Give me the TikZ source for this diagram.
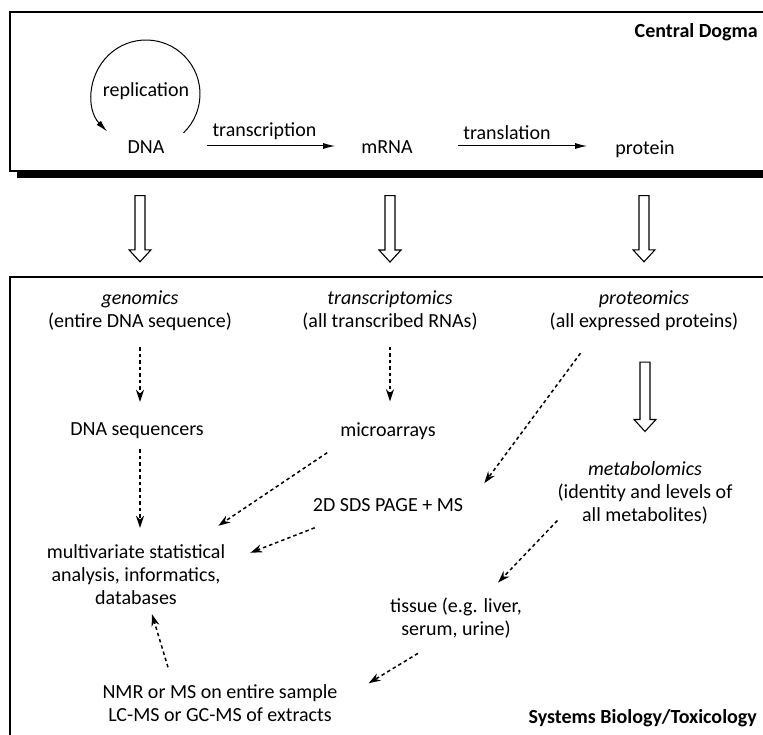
\documentclass[tikz,border=0pt]{standalone}
\usepackage{fontspec}
\setmainfont{Carlito}
\usetikzlibrary{arrows.meta,calc}

\begin{document}
\begin{tikzpicture}[x=1pt,y=-1pt,
    every node/.style={font=\fontsize{20}{23}\selectfont, align=center, inner sep=0pt},
    box/.style={draw, line width=1.4pt, fill=white},
    flow/.style={-{Latex[length=12pt,width=6pt]}, line width=1pt},
    dashflow/.style={-{Stealth[length=12pt,width=8pt]}, line width=1.5pt, dash pattern=on 3.5pt off 3pt},
    hollowarrow/.style={draw, fill=white, line width=1.1pt,
      to path={let \p1=(\tikztostart), \p2=(\tikztotarget) in
        (\x2-5pt,\y1) -- (\x2+5pt,\y1) -- (\x2+5pt,\y2+12pt) -- (\x2+11pt,\y2+12pt)
        -- (\x2,\y2) -- (\x2-11pt,\y2+12pt) -- (\x2-5pt,\y2+12pt) -- cycle}}]
  \useasboundingbox (0,0) rectangle (763,735);
  \clip (0,0) rectangle (763,735);

  % central dogma
  \fill (17,19) rectangle (800,178);
  \draw[box] (10,12) rectangle (800,171);
  \node[font=\fontsize{20}{23}\selectfont\bfseries, anchor=base east] (dogma) at (758,38) {Central Dogma};
  \node (rep) at (146,91) {replication};
  \node (dna) at (146,147) {DNA};
  \node (mrna) at (387,147) {mRNA};
  \node (prot) at (645,149) {protein};
  \draw[flow] ([yshift=-3pt]rep.center) ++(-46:54pt) arc[start angle=-46, end angle=224, radius=54pt];
  \draw[flow] ([xshift=42pt,yshift=1pt]dna.east) -- node[above=6pt, pos=0.45] (tsc) {transcription}
    ([xshift=-26pt,yshift=1pt]dna.east -| mrna.west);
  \draw[flow] ([xshift=45pt,yshift=1pt]mrna.east) -- node[above=6pt, pos=0.38] (tsl) {translation}
    ([xshift=-28pt,yshift=1pt]mrna.east -| prot.west);

  % omics
  \draw[box] (10,277) rectangle (800,760);
  \node (geno) at (140,311) {\itshape genomics\\(entire DNA sequence)};
  \node (trans) at (390,311) {\itshape transcriptomics\\(all transcribed RNAs)};
  \node (prote) at (644,311) {\itshape proteomics\\(all expressed proteins)};
  \node (seq) at (137,431) {DNA sequencers};
  \node (micro) at (388,431) {microarrays};
  \node (sds) at (388,505) {2D SDS PAGE + MS};
  \node (metab) at (645,493) {\itshape metabolomics\\(identity and levels of\\all metabolites)};
  \node (multi) at (136,575) {multivariate statistical\\analysis, informatics,\\databases};
  \node (tissue) at (456,618) {tissue (e.g. liver,\\serum, urine)};
  \node (nmr) at (220,703) {NMR or MS on entire sample\\LC-MS or GC-MS of extracts};
  \node[font=\fontsize{20}{23}\selectfont\bfseries, anchor=base east] (sysbio) at (757,723) {Systems Biology/Toxicology};

  \draw[hollowarrow] ([yshift=-42pt]dna.south) to ([yshift=29pt]geno.north);
  \draw[hollowarrow] ([yshift=-42pt]mrna.south) to ([yshift=29pt]trans.north);
  \draw[hollowarrow] ([yshift=-38pt]prot.south) to ([yshift=29pt]prote.north);
  \draw[hollowarrow] ([yshift=-31pt]prote.south) to ([yshift=30pt]metab.north);

  \draw[dashflow] ([yshift=-16pt]geno.south) -- ([yshift=21pt]geno.south |- seq.north);
  \draw[dashflow] ([yshift=-16pt]trans.south) -- ([yshift=21pt]trans.south |- micro.north);
  \draw[dashflow] ([yshift=-10pt]geno.south |- seq.south) -- ([yshift=17pt]geno.south |- multi.north);
  \draw[dashflow] ([xshift=-13pt,yshift=-13pt]micro.south west) -- ([xshift=-7pt,yshift=19pt]multi.north east);
  \draw[dashflow] ([xshift=31pt,yshift=-22pt]prote.south west) -- ([xshift=21pt,yshift=15pt]sds.north east);
  \draw[dashflow] ([xshift=2pt,yshift=-16pt]sds.south west) -- ([xshift=25pt,yshift=-8pt]multi.north east);
  \draw[dashflow] ([yshift=4pt]metab.south west) -- ([xshift=-24pt,yshift=15pt]tissue.north east);
  \draw[dashflow] ([xshift=28pt,yshift=-15pt]tissue.south west) -- ([xshift=31pt,yshift=1pt]nmr.north east);
  \draw[dashflow] ([xshift=-52pt,yshift=17pt]nmr.north) -- ([xshift=16pt,yshift=-9pt]multi.south);
\end{tikzpicture}
\end{document}
